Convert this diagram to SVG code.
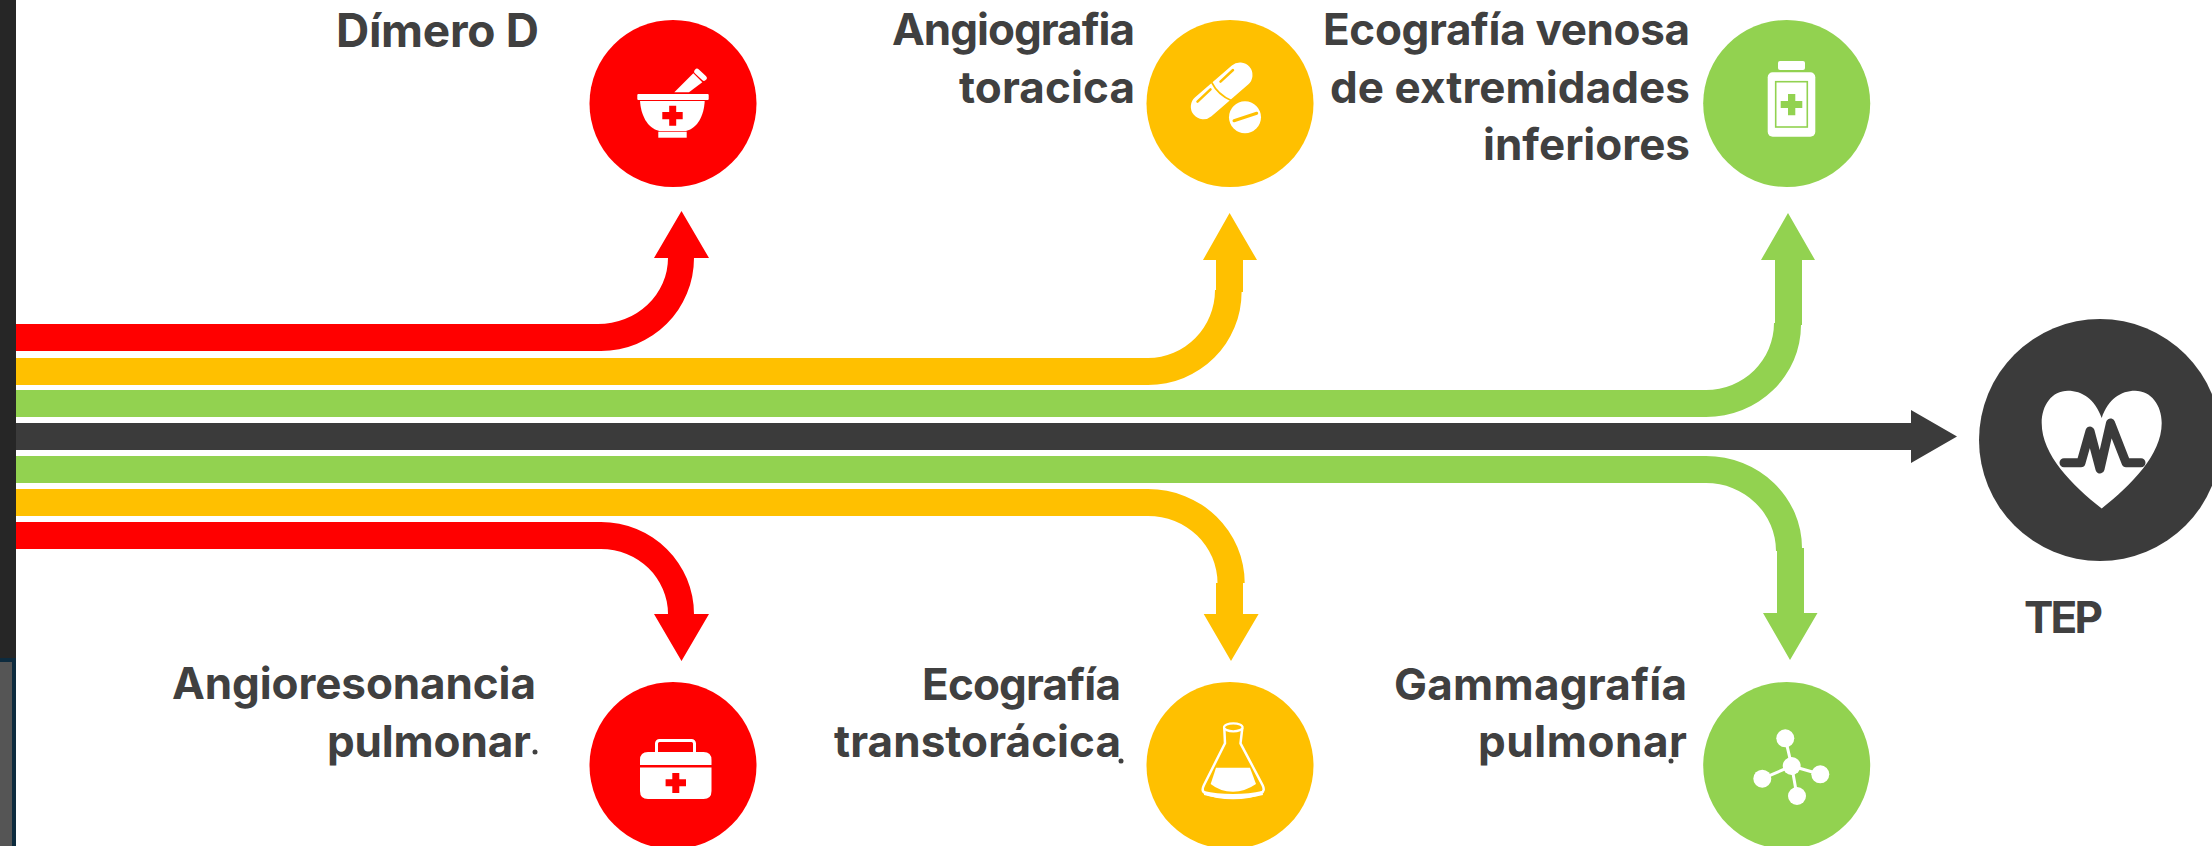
<svg xmlns="http://www.w3.org/2000/svg" width="2212" height="846" viewBox="0 0 2212 846">
<style>
text{font-family:"Inter","Liberation Sans",sans-serif;font-weight:700;font-size:44px;fill:#404040;text-anchor:end}
.r{fill:#ff0000}.y{fill:#ffc000}.g{fill:#92d250}.d{fill:#3b3b3b}.w{fill:#fff}
.ws{fill:none;stroke:#fff;stroke-linecap:round;stroke-linejoin:round}
.dot{fill:#404040}
</style>
<rect width="2212" height="846" fill="#fff"/>
<g id="window-edge">
<rect x="0" y="0" width="16" height="658" fill="#262626"/>
<rect x="0" y="658" width="16" height="188" fill="#0d2b3e"/>
<rect x="0" y="662" width="12" height="184" fill="#555"/>
</g>
<g id="connectors">
<path class="r" d="M16 324H598A70 66 0 0 0 668 258H654L681.5 211L709 258H694A93 93 0 0 1 601 351H16Z"/>
<path class="y" d="M16 358H1148A67 68 0 0 0 1215 290L1216 290V260H1203L1229.6 213L1257 260H1243V292H1241.6A93.6 93 0 0 1 1148 385H16Z"/>
<path class="g" d="M16 390H1706A68 67 0 0 0 1774 323H1775V260H1761L1788 213L1815 260H1802V325H1801A95 92 0 0 1 1706 417H16Z"/>
<path class="d" d="M16 423H1911V410L1957 436.500L1911 463V450H16Z"/>
<path class="g" d="M16 456H1706A96 92 0 0 1 1802 548H1804V613H1817.500L1790 660L1763 613H1777V551H1776A70 68 0 0 0 1706 483H16Z"/>
<path class="y" d="M16 489H1148A96.700 94 0 0 1 1244.700 583H1243V614H1258.600L1231 661L1203.700 614H1216V583H1217.500A69.500 67 0 0 0 1148 516H16Z"/>
<path class="r" d="M16 522H601A93 92 0 0 1 694 614H709L681.500 661L654 614H668A67 65 0 0 0 601 549H16Z"/>
</g>
<g id="node-dimero">
<circle class="r" cx="673" cy="103.500" r="83.500"/>
<rect class="w" x="637.300" y="94" width="71.400" height="6" rx="1"/>
<path class="w" d="M640 101H704.700C704 115 698 128 686 131H659.300C647 128 641 115 640 101Z"/>
<rect class="w" x="658.300" y="131.700" width="28.400" height="6"/>
<path class="r" d="M669.200 105.700H676.200V112H682.700V119.300H676.200V125.700H669.200V119.300H662.300V112H669.200Z"/>
<path class="w" d="M674.300 92.300L693.300 73.300L702.300 82.300L689 92.300Z"/>
<path class="ws" stroke-width="5.500" d="M697 71.500L704 78"/>
<text x="539" y="47" textLength="203" font-size="46" style="font-size:46px">Dímero D</text>
</g>
<g id="node-angiografia">
<circle class="y" cx="1230" cy="103.500" r="83.500"/>
<path class="ws" stroke-width="25" d="M1203.300 106.700L1240 75"/>
<path d="M1211.700 82.300C1215 89 1221 96 1231.700 100.700" fill="none" stroke="#ffc000" stroke-width="1.800"/>
<path d="M1197.500 101.700L1210.500 89.300M1220.500 81.700L1233 70" fill="none" stroke="#ffc000" stroke-width="2.500" stroke-linecap="round"/>
<circle class="w" cx="1245" cy="117.300" r="16"/>
<path d="M1234 120.700L1256.700 113.300" fill="none" stroke="#ffc000" stroke-width="3" stroke-linecap="round"/>
<text x="1135" y="45" textLength="243">Angiografia</text>
<text x="1135" y="103" textLength="176">toracica</text>
</g>
<g id="node-ecografia-venosa">
<circle class="g" cx="1786.700" cy="103.500" r="83.500"/>
<rect class="w" x="1778" y="61" width="27" height="9" rx="2"/>
<rect class="w" x="1767.700" y="72.300" width="47.600" height="64.400" rx="5"/>
<rect x="1775.700" y="81.700" width="31.600" height="45.300" fill="none" stroke="#92d250" stroke-width="1.600"/>
<path class="g" d="M1788 94H1795.300V101H1802.300V108H1795.300V115.300H1788V108H1780.700V101H1788Z"/>
<text x="1690" y="45" textLength="367">Ecografía venosa</text>
<text x="1690" y="103" textLength="360">de extremidades</text>
<text x="1690" y="160" textLength="207">inferiores</text>
</g>
<g id="node-tep">
<circle class="d" cx="2100" cy="440" r="121"/>
<path class="w" d="M2101.700 418C2095 399 2082 390.700 2068 390.700C2052 390.700 2041.700 405 2041.700 423C2041.700 455 2072 485 2101.700 508.500C2131 485 2161.700 455 2161.700 423C2161.700 405 2151 390.700 2135 390.700C2121 390.700 2108 399 2101.700 418Z"/>
<path d="M2064 462.700H2081L2090 431L2100 469L2110.500 423L2126 462.700H2141" fill="none" stroke="#3b3b3b" stroke-width="9" stroke-linecap="round" stroke-linejoin="round"/>
<text x="2103" y="633" textLength="79">TEP</text>
</g>
<g id="node-angioresonancia">
<circle class="r" cx="673" cy="765.500" r="83.500"/>
<rect x="656.500" y="740.500" width="38" height="18" rx="3" fill="none" stroke="#fff" stroke-width="3"/>
<path class="w" d="M640 765V760Q640 752 648 752H703.500Q711.500 752 711.500 760V765ZM640 767.500H711.500V791Q711.500 799 703.500 799H648Q640 799 640 791Z"/>
<path class="r" d="M672.300 773H679.300V779.300H686V786.300H679.300V793H672.300V786.300H665.600V779.300H672.300Z"/>
<text x="536" y="699" textLength="364">Angioresonancia</text>
<text x="531" y="757" textLength="204">pulmonar</text>
<circle class="dot" cx="535" cy="752" r="2.500"/>
</g>
<g id="node-ecografia-trans">
<circle class="y" cx="1230" cy="765.500" r="83.500"/>
<ellipse cx="1233.300" cy="727.300" rx="9.300" ry="4" fill="none" stroke="#fff" stroke-width="2.200"/>
<path d="M1224.300 728L1225 743.300L1204 785Q1201 791 1205 793Q1216 798 1233 798Q1250 798 1261 793Q1265.500 791 1262.500 785L1240.500 743.300L1242.300 728" fill="none" stroke="#fff" stroke-width="2.500" stroke-linejoin="round"/>
<path class="w" d="M1204 791Q1216 794 1233 794Q1250 794 1262 791L1263 795Q1250 798.500 1233 798.500Q1216 798.500 1204 795Z"/>
<path class="w" d="M1216 767.700H1250L1256 784Q1245 791.700 1233 791.700Q1220 791.700 1210.700 784Z"/>
<text x="1121" y="700" textLength="199">Ecografía</text>
<text x="1121" y="757" textLength="287">transtorácica</text>
<circle class="dot" cx="1121" cy="761" r="2.500"/>
</g>
<g id="node-gammagrafia">
<circle class="g" cx="1786.700" cy="765.500" r="83.500"/>
<path d="M1791.700 766L1785.300 738.300M1791.700 766L1762.300 778.700M1791.700 766L1797 796M1791.700 766L1820.300 774.300" fill="none" stroke="#fff" stroke-width="3"/>
<circle class="w" cx="1791.700" cy="766" r="9"/>
<circle class="w" cx="1785.300" cy="738.300" r="9"/>
<circle class="w" cx="1762.300" cy="778.700" r="9"/>
<circle class="w" cx="1797" cy="796" r="9"/>
<circle class="w" cx="1820.300" cy="774.300" r="9"/>
<text x="1687" y="700" textLength="293">Gammagrafía</text>
<text x="1687" y="757" textLength="209">pulmonar</text>
<circle class="dot" cx="1671" cy="761" r="2.500"/>
</g>
</svg>
